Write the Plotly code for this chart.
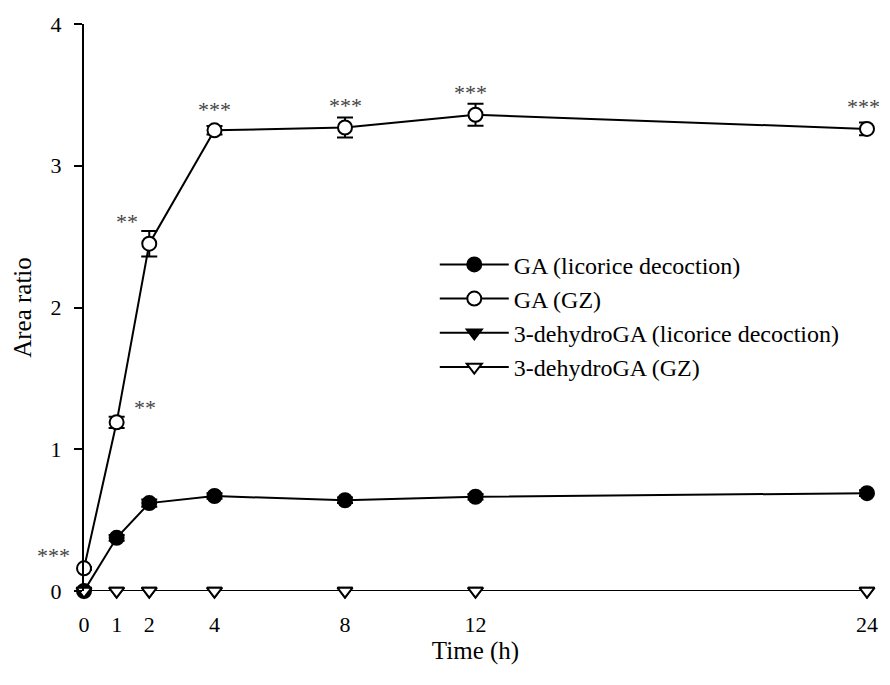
import plotly.graph_objects as go

# Sampling times (h)
time_h = [0, 1, 2, 4, 8, 12, 24]

# GA area ratio, licorice decoction (mean, SE)
ga_decoction = [0.0, 0.375, 0.62, 0.67, 0.64, 0.665, 0.69]
ga_decoction_err = [0.01, 0.02, 0.025, 0.02, 0.02, 0.02, 0.02]

# GA area ratio, GZ (mean, SE)
ga_gz = [0.16, 1.19, 2.45, 3.25, 3.27, 3.36, 3.26]
ga_gz_err = [0.01, 0.04, 0.09, 0.03, 0.07, 0.077, 0.045]

# 3-dehydroGA area ratio
dehydro_decoction = [0, 0, 0, 0, 0, 0, 0]
dehydro_gz = [0, 0, 0, 0, 0, 0, 0]

# Significance marks for GA (GZ) vs GA (licorice decoction)
sig_labels = ["***", "**", "**", "***", "***", "***", "***"]
# pixel offsets of each mark from the top of its error bar
sig_dx = [-31, 28, -22, 0, 0, -5, -4]
sig_dy = [-5, -7, -7, 0, -4, -5, 0]

FONT = "Liberation Serif"
BLACK = "#000000"

fig = go.Figure()

series = [
    ("GA (licorice decoction)", ga_decoction, ga_decoction_err, "circle", BLACK),
    ("GA (GZ)", ga_gz, ga_gz_err, "circle", "white"),
    ("3-dehydroGA (licorice decoction)", dehydro_decoction, None, "triangle-down", BLACK),
    ("3-dehydroGA (GZ)", dehydro_gz, None, "triangle-down", "white"),
]

for name, vals, errs, symbol, fill in series:
    fig.add_trace(go.Scatter(
        x=time_h, y=vals, name=name, mode="lines+markers",
        line=dict(color=BLACK, width=2),
        marker=dict(symbol=symbol, size=14 if symbol == "circle" else 13,
                    color=fill, line=dict(color=BLACK, width=2)),
        error_y=dict(type="data", array=errs, color=BLACK, thickness=2, width=8,
                     visible=errs is not None),
        cliponaxis=False,
    ))

for t, v, e, lab, dx, dy in zip(time_h, ga_gz, ga_gz_err, sig_labels, sig_dx, sig_dy):
    fig.add_annotation(
        x=t, y=v + e, text=lab, showarrow=False,
        xanchor="center", yanchor="bottom", xshift=dx, yshift=2 + dy,
        font=dict(family=FONT, size=22, color="#444444"),
    )

fig.update_layout(
    width=890, height=685,
    margin=dict(l=84, r=14, t=22, b=94),
    paper_bgcolor="white", plot_bgcolor="white",
    font=dict(family=FONT, color=BLACK),
    showlegend=True,
    legend=dict(
        x=0.448, y=0.615, xanchor="left", yanchor="top",
        font=dict(family=FONT, size=24, color=BLACK),
        bgcolor="rgba(0,0,0,0)", tracegroupgap=0, itemwidth=69,
    ),
    xaxis=dict(
        range=[0, 24], tickvals=time_h, ticktext=[str(t) for t in time_h],
        showline=False, showgrid=False, zeroline=False, ticks="",
        ticklabelstandoff=18,
        tickfont=dict(family=FONT, size=22, color=BLACK),
        title=dict(text="Time (h)", font=dict(family=FONT, size=25, color=BLACK), standoff=1),
    ),
    yaxis=dict(
        range=[0, 4], tickvals=[0, 1, 2, 3, 4],
        showline=True, linecolor=BLACK, linewidth=2,
        showgrid=False, zeroline=False,
        ticks="outside", ticklen=8, tickwidth=2, tickcolor=BLACK,
        ticklabelstandoff=8,
        tickfont=dict(family=FONT, size=22, color=BLACK),
        title=dict(text="Area ratio", font=dict(family=FONT, size=25, color=BLACK), standoff=12),
    ),
)

fig.write_html("out.html")
